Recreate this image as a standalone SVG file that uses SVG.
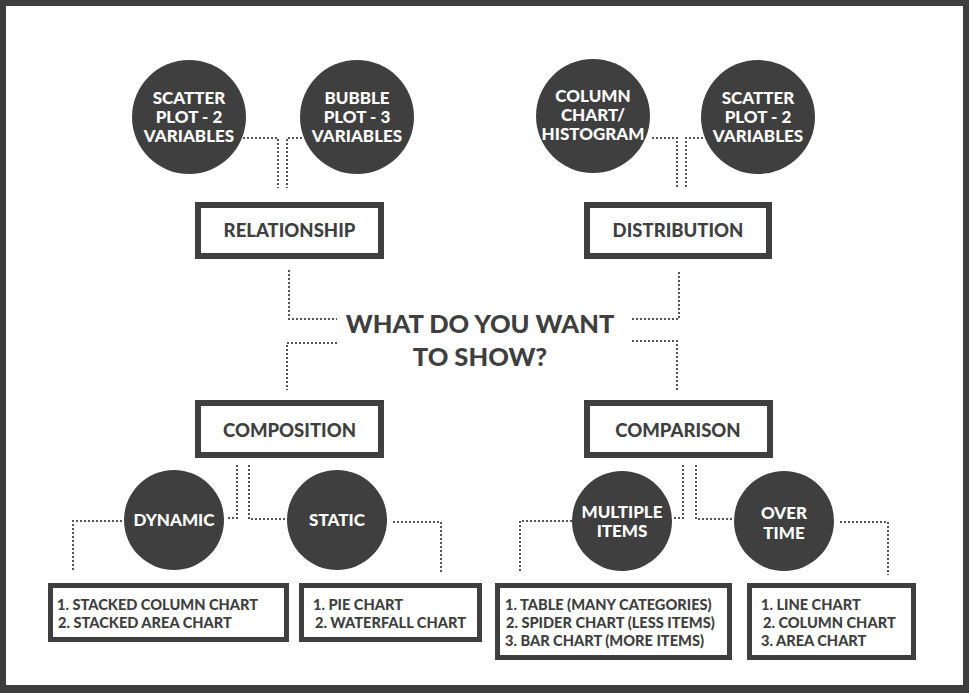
<svg xmlns="http://www.w3.org/2000/svg" width="969" height="693" viewBox="0 0 969 693">
<style>
.frame{fill:#3d3d3d}
.bg{fill:#ffffff}
.box{fill:#ffffff;stroke:#3f3f3f;stroke-width:6}
.lbox{fill:#ffffff;stroke:#3f3f3f;stroke-width:5}
.circ{fill:#3f3f3f}
.t{font-family:Lato,"Liberation Sans",sans-serif;font-weight:900;fill:#3f3f3f}
.ct{font-family:Lato,"Liberation Sans",sans-serif;font-weight:900;fill:#ffffff;font-size:17px;text-anchor:middle}
.bt{font-size:18.5px;text-anchor:middle}
.title{font-size:25.5px;text-anchor:middle}
.lt{font-size:14.6px}
.dot{fill:none;stroke:#555555;stroke-width:2;stroke-dasharray:2 2}
</style>
<rect class="frame" x="0" y="0" width="969" height="693"/>
<rect class="bg" x="6" y="6" width="957" height="679"/>

<g id="connectors">
<path class="dot" d="M243,138 H278 V188"/>
<path class="dot" d="M302,138 H287 V188"/>
<path class="dot" d="M652,138 H677 V188"/>
<path class="dot" d="M707,138 H686 V188"/>
<path class="dot" d="M289,270 V319 H337"/>
<path class="dot" d="M632,319 H679 V270"/>
<path class="dot" d="M337,343 H287 V390"/>
<path class="dot" d="M632,341 H677 V391"/>
<path class="dot" d="M237,465 V518 H227"/>
<path class="dot" d="M249,465 V519 H287"/>
<path class="dot" d="M122,521 H73 V572"/>
<path class="dot" d="M393,522 H441 V573"/>
<path class="dot" d="M683,465 V518 H673"/>
<path class="dot" d="M696,465 V519 H733"/>
<path class="dot" d="M572,521 H520 V572"/>
<path class="dot" d="M840,522 H888 V575"/>
</g>

<g id="title">
<text class="t title" x="480" y="333">WHAT DO YOU WANT</text>
<text class="t title" x="480" y="366">TO SHOW?</text>
</g>

<g id="relationship">
<rect class="box" x="198" y="205" width="183" height="51"/>
<text class="t bt" x="289.5" y="237">RELATIONSHIP</text>
</g>
<g id="distribution">
<rect class="box" x="587" y="205" width="182" height="51"/>
<text class="t bt" x="678" y="237">DISTRIBUTION</text>
</g>
<g id="composition">
<rect class="box" x="198" y="403" width="183" height="52"/>
<text class="t bt" x="289.5" y="437">COMPOSITION</text>
</g>
<g id="comparison">
<rect class="box" x="587" y="403" width="183" height="52"/>
<text class="t bt" x="678" y="437">COMPARISON</text>
</g>

<g id="scatter-plot-left">
<circle class="circ" cx="189" cy="117" r="57"/>
<text class="ct" x="189" y="104">SCATTER</text>
<text class="ct" x="189" y="123">PLOT - 2</text>
<text class="ct" x="189" y="142">VARIABLES</text>
</g>
<g id="bubble-plot">
<circle class="circ" cx="357" cy="117" r="57"/>
<text class="ct" x="357" y="104">BUBBLE</text>
<text class="ct" x="357" y="123">PLOT - 3</text>
<text class="ct" x="357" y="142">VARIABLES</text>
</g>
<g id="column-histogram">
<circle class="circ" cx="593" cy="116" r="57"/>
<text class="ct" x="593" y="102">COLUMN</text>
<text class="ct" x="593" y="121">CHART/</text>
<text class="ct" x="593" y="140">HISTOGRAM</text>
</g>
<g id="scatter-plot-right">
<circle class="circ" cx="758" cy="117" r="57"/>
<text class="ct" x="758" y="104">SCATTER</text>
<text class="ct" x="758" y="123">PLOT - 2</text>
<text class="ct" x="758" y="142">VARIABLES</text>
</g>

<g id="dynamic">
<circle class="circ" cx="174" cy="520" r="50"/>
<text class="ct" x="174" y="526">DYNAMIC</text>
</g>
<g id="static">
<circle class="circ" cx="337" cy="520" r="50"/>
<text class="ct" x="337" y="526">STATIC</text>
</g>
<g id="multiple-items">
<circle class="circ" cx="622" cy="521" r="50"/>
<text class="ct" x="622" y="518">MULTIPLE</text>
<text class="ct" x="622" y="537">ITEMS</text>
</g>
<g id="over-time">
<circle class="circ" cx="784" cy="521" r="50"/>
<text class="ct" x="784" y="519">OVER</text>
<text class="ct" x="784" y="539">TIME</text>
</g>

<g id="dynamic-list">
<rect class="lbox" x="50.5" y="585.5" width="236" height="54"/>
<text class="t lt" x="57" y="609.5">1. STACKED COLUMN CHART</text>
<text class="t lt" x="58" y="627.5">2. STACKED AREA CHART</text>
</g>
<g id="static-list">
<rect class="lbox" x="301.5" y="585.5" width="178" height="54"/>
<text class="t lt" x="313" y="609.5">1. PIE CHART</text>
<text class="t lt" x="315" y="627.5">2. WATERFALL CHART</text>
</g>
<g id="multiple-list">
<rect class="lbox" x="497.5" y="585.5" width="232" height="72"/>
<text class="t lt" x="505" y="610">1. TABLE (MANY CATEGORIES)</text>
<text class="t lt" x="506" y="628">2. SPIDER CHART (LESS ITEMS)</text>
<text class="t lt" x="505" y="646">3. BAR CHART (MORE ITEMS)</text>
</g>
<g id="over-time-list">
<rect class="lbox" x="749.5" y="585.5" width="164" height="72"/>
<text class="t lt" x="761" y="610">1. LINE CHART</text>
<text class="t lt" x="763" y="628">2. COLUMN CHART</text>
<text class="t lt" x="761" y="646">3. AREA CHART</text>
</g>
</svg>
